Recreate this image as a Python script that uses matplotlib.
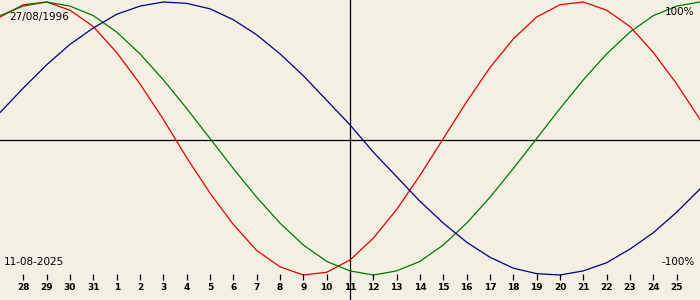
import matplotlib
matplotlib.use('Agg')
from matplotlib import pyplot as plt

# biorhythm values in %, one per day from 27 Jul to 26 Aug (center = 11 Aug)
day_offset = list(range(-15, 16))
physical = [89, 98, 100, 94, 82, 63, 40, 14, -14, -40, -63, -82, -94, -100, -98, -89,
            -73, -52, -27, 0, 27, 52, 73, 89, 98, 100, 94, 82, 63, 40, 14]
emotional = [90, 97, 100, 97, 90, 78, 62, 43, 22, 0, -22, -43, -62, -78, -90, -97,
             -100, -97, -90, -78, -62, -43, -22, 0, 22, 43, 62, 78, 90, 97, 100]
intellectual = [19, 37, 54, 69, 81, 91, 97, 100, 99, 95, 87, 76, 62, 46, 28, 10,
                -10, -28, -46, -62, -76, -87, -95, -99, -100, -97, -91, -81, -69, -54, -37]

tick_offset = list(range(-14, 15))
tick_labels = ['28', '29', '30', '31'] + [str(i) for i in range(1, 26)]

birth_date = '27/08/1996'
today = '11-08-2025'

bg = '#f3efe3'


def py(p):
    # pixel row -> percent value (100% sits on row 2, -100% on row 275)
    return 100 - (p - 2) * 200.0 / 273


fig = plt.figure(figsize=(7, 3), dpi=100, facecolor=bg)
ax = fig.add_axes([0, 0, 1, 1])
ax.set_facecolor(bg)
ax.set_xlim(-15, 15)
ax.set_ylim(py(300), py(0))
ax.axis('off')

ax.axhline(py(140), color='black', lw=0.9)
ax.axvline(0, color='black', lw=0.9)

ax.plot(day_offset, physical, color='#e00000', lw=0.9)
ax.plot(day_offset, emotional, color='#007800', lw=0.9)
ax.plot(day_offset, intellectual, color='#000080', lw=0.9)

ax.vlines(tick_offset, py(274), py(280), color='black', lw=0.9)
for d, lab in zip(tick_offset, tick_labels):
    ax.text(d, py(288), lab, ha='center', va='center', fontsize=6.5,
            fontweight='bold', color='black')

fig.text(9 / 700, 1 - 17 / 300, birth_date, ha='left', va='center', fontsize=7.5)
fig.text(4 / 700, 1 - 262 / 300, today, ha='left', va='center', fontsize=7.5)
fig.text(694 / 700, 1 - 12 / 300, '100%', ha='right', va='center', fontsize=7.5)
fig.text(695 / 700, 1 - 262 / 300, '-100%', ha='right', va='center', fontsize=7.5)

fig.savefig('out.png', dpi=100, facecolor=bg)
